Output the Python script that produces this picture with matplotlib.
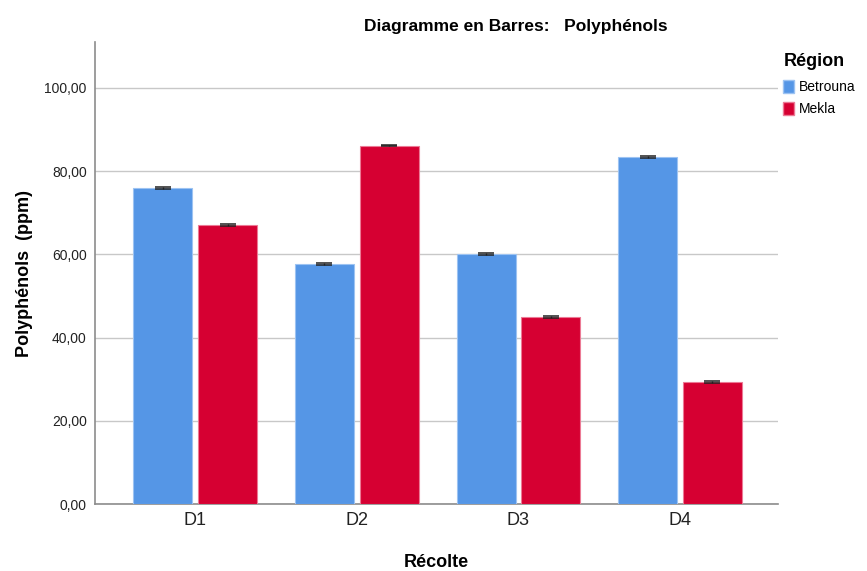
import matplotlib
matplotlib.use("Agg")
import matplotlib.pyplot as plt
import numpy as np
from matplotlib.ticker import FuncFormatter
from matplotlib.patches import Patch

plt.rcParams["font.family"] = ["Liberation Sans", "DejaVu Sans"]

# data
recoltes = ["D1", "D2", "D3", "D4"]
regions = ["Betrouna", "Mekla"]
betrouna = [76.0, 57.7, 60.1, 83.4]
mekla = [67.1, 86.1, 45.0, 29.3]
betrouna_err = [0.2, 0.2, 0.2, 0.2]
mekla_err = [0.2, 0.2, 0.2, 0.2]

colors = ["#5596E6", "#D60032"]
edges = ["#9DC3F2", "#EC7A95"]

fig = plt.figure(figsize=(8.67, 5.71), dpi=100)
ax = fig.add_axes([0.1096, 0.1173, 0.7874, 0.8091])

x = np.arange(len(recoltes))
width = 0.365
offset = 0.2
for vals, errs, c, ec, dx in [(betrouna, betrouna_err, colors[0], edges[0], -offset),
                              (mekla, mekla_err, colors[1], edges[1], offset)]:
    ax.bar(x + dx, vals, width, color=c, edgecolor=ec, linewidth=0.8, zorder=3)
    ax.errorbar(x + dx, vals, yerr=errs, fmt="none", ecolor="#222222",
                elinewidth=1.0, capsize=6, capthick=1.1, zorder=4)

ax.set_xlim(-0.62, 3.605)
ax.set_ylim(0, 111)
ax.set_yticks([0, 20, 40, 60, 80, 100])
ax.yaxis.set_major_formatter(FuncFormatter(lambda v, p: f"{v:.2f}".replace(".", ",")))
ax.set_xticks(x)
ax.set_xticklabels(recoltes, fontsize=13, color="#222222")
ax.tick_params(axis="y", labelsize=10, colors="#222222", length=0, pad=6)
ax.tick_params(axis="x", length=0, pad=6)

ax.grid(axis="y", color="#C8C8C8", linewidth=1.0, zorder=0)
ax.set_axisbelow(True)
for s in ["top", "right"]:
    ax.spines[s].set_visible(False)
for s in ["left", "bottom"]:
    ax.spines[s].set_color("#8C8C8C")
    ax.spines[s].set_linewidth(1.2)

ax.set_ylabel("Polyphénols  (ppm)", fontsize=13, fontweight="bold", labelpad=8)
ax.set_xlabel("Récolte", fontsize=13, fontweight="bold", labelpad=18)
fig.text(0.595, 0.953, "Diagramme en Barres:   Polyphénols", ha="center", va="center",
         fontsize=12.5, fontweight="bold")

handles = [Patch(facecolor=colors[i], edgecolor=edges[i], label=regions[i]) for i in range(2)]
leg = fig.legend(handles=handles, title="Région", loc="upper left",
                 bbox_to_anchor=(0.897, 0.917), frameon=False, fontsize=10,
                 handlelength=0.8, handleheight=1.1, handletextpad=0.3,
                 labelspacing=0.55, borderaxespad=0)
leg.get_title().set_fontweight("bold")
leg.get_title().set_fontsize(13)
leg._legend_box.align = "left"
leg._legend_box.sep = 7

fig.savefig("out.png", dpi=100)
